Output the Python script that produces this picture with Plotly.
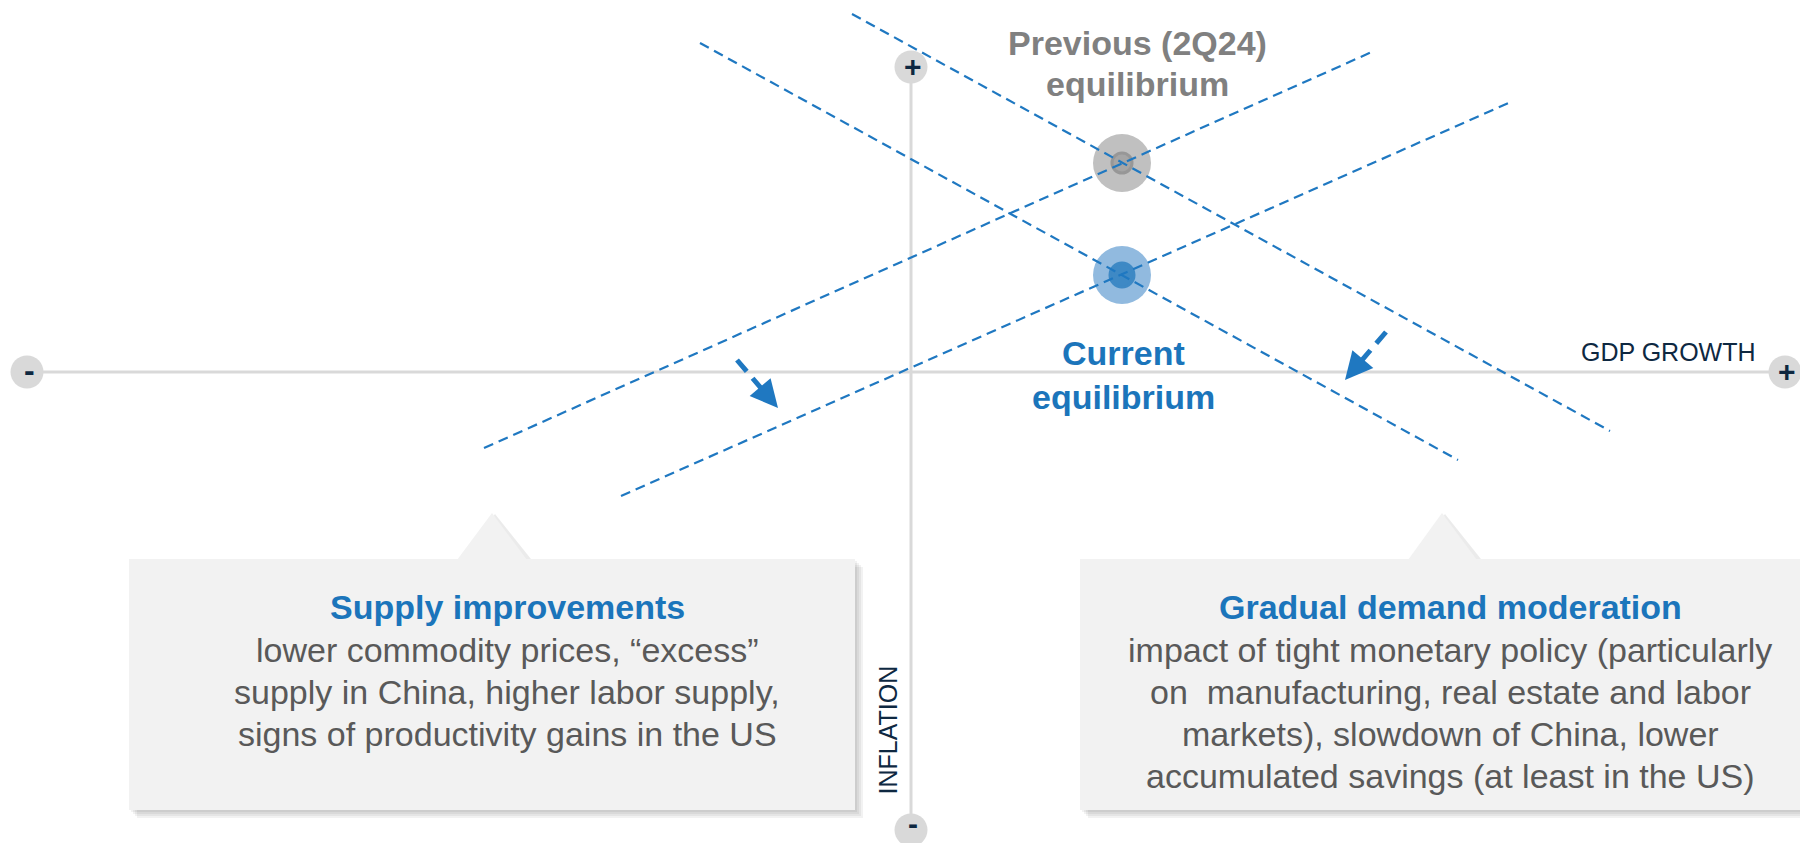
import plotly.graph_objects as go

# ---------------- DATA (conceptual diagram coordinates: x = GDP growth, y = inflation) ----------------
X_RANGE = [-9.11, 8.89]
Y_RANGE = [-4.71, 3.72]

gdp_axis_x = [-8.84, 8.74]
gdp_axis_y = [0.0, 0.0]
infl_axis_x = [0.0, 0.0]
infl_axis_y = [-4.58, 3.05]
axis_end_x = [-8.84, 8.74, 0.0, 0.0]
axis_end_y = [0.0, 0.0, 3.05, -4.58]
axis_end_text = ["-", "+", "+", "-"]

demand_prev_x = [-0.59, 6.99]
demand_prev_y = [3.58, -0.59]
demand_curr_x = [-2.11, 5.47]
demand_curr_y = [3.29, -0.88]
supply_prev_x = [-4.27, 4.63]
supply_prev_y = [-0.76, 3.21]
supply_curr_x = [-2.90, 6.02]
supply_curr_y = [-1.24, 2.71]

equilibrium_labels = ["Previous (2Q24)", "Current"]
equilibrium_x = [2.11, 2.11]
equilibrium_y = [2.09, 0.97]

supply_shift_x = [-1.74, -1.33]
supply_shift_y = [0.12, -0.36]
demand_shift_x = [4.75, 4.34]
demand_shift_y = [0.40, -0.08]

axis_titles = ["GDP GROWTH", "INFLATION"]

supply_title = "Supply improvements"
supply_lines = [
    "lower commodity prices, \u201cexcess\u201d",
    "supply in China, higher labor supply,",
    "signs of productivity gains in the US",
]
demand_title = "Gradual demand moderation"
demand_lines = [
    "impact of tight monetary policy (particularly",
    "on&nbsp; manufacturing, real estate and labor",
    "markets), slowdown of China, lower",
    "accumulated savings (at least in the US)",
]

# ---------------- STYLE ----------------
W, H = 1800, 843
FONT = "Liberation Sans, Arial, Helvetica, sans-serif"
BLUE = "#1B75BB"
LINE_BLUE = "#1F78C1"
GREY_TXT = "#595959"
NAVY = "#0E2841"
AXIS_GREY = "#D9D9D9"
BOX_FILL = "#F2F2F2"


def fx(px):
    return X_RANGE[0] + px / W * (X_RANGE[1] - X_RANGE[0])


def fy(py):
    return Y_RANGE[1] - py / H * (Y_RANGE[1] - Y_RANGE[0])


fig = go.Figure()

# axes
fig.add_trace(go.Scatter(x=gdp_axis_x, y=gdp_axis_y, mode="lines",
                         line=dict(color=AXIS_GREY, width=3), hoverinfo="skip"))
fig.add_trace(go.Scatter(x=infl_axis_x, y=infl_axis_y, mode="lines",
                         line=dict(color=AXIS_GREY, width=3), hoverinfo="skip"))
fig.add_trace(go.Scatter(x=axis_end_x, y=axis_end_y, mode="markers",
                         marker=dict(size=33, color=AXIS_GREY), hoverinfo="skip"))

# equilibrium halos
fig.add_trace(go.Scatter(x=equilibrium_x, y=equilibrium_y, mode="markers",
                         marker=dict(size=58, color=["#C0C0C0", "#91BADF"]), hoverinfo="skip"))
fig.add_trace(go.Scatter(x=equilibrium_x, y=equilibrium_y, mode="markers",
                         marker=dict(size=[20, 24], color=["#9A9A9A", BLUE],
                                     line=dict(color=["#878787", BLUE], width=3)),
                         hoverinfo="skip"))

# curves
for xs, ys in [(demand_prev_x, demand_prev_y), (demand_curr_x, demand_curr_y),
               (supply_prev_x, supply_prev_y), (supply_curr_x, supply_curr_y)]:
    fig.add_trace(go.Scatter(x=xs, y=ys, mode="lines",
                             line=dict(color=LINE_BLUE, width=2.2, dash="10px,6px"),
                             hoverinfo="skip"))

# shift arrows (dashed shaft + head)
for xs, ys in [(supply_shift_x, supply_shift_y), (demand_shift_x, demand_shift_y)]:
    fig.add_trace(go.Scatter(x=[xs[0], xs[0] + 0.8 * (xs[1] - xs[0])],
                             y=[ys[0], ys[0] + 0.8 * (ys[1] - ys[0])], mode="lines",
                             line=dict(color=LINE_BLUE, width=5, dash="15px,9px"),
                             hoverinfo="skip"))
    fig.add_annotation(x=xs[1], y=ys[1], ax=xs[0] + 0.55 * (xs[1] - xs[0]),
                       ay=ys[0] + 0.55 * (ys[1] - ys[0]), xref="x", yref="y",
                       axref="x", ayref="y", text="", showarrow=True,
                       arrowhead=2, arrowsize=1.1, arrowwidth=5, arrowcolor=LINE_BLUE)

# axis end symbols
for i, (x, y, t) in enumerate(zip(axis_end_x, axis_end_y, axis_end_text)):
    if i == 3:
        # bottom symbol: keep the glyph box inside the page
        fig.add_annotation(x=x, y=y, text="<b>%s</b>" % t, showarrow=False,
                           xshift=2, yanchor="bottom", yshift=-12,
                           font=dict(family=FONT, size=30, color=NAVY))
    else:
        fig.add_annotation(x=x, y=y, text="<b>%s</b>" % t, showarrow=False,
                           xshift=2, yshift=1 if t == "+" else 2,
                           font=dict(family=FONT, size=30 if t == "+" else 32, color=NAVY))

# axis titles
fig.add_annotation(x=gdp_axis_x[1], y=0, text=axis_titles[0], showarrow=False,
                   xanchor="right", yanchor="middle", xshift=-27, yshift=20,
                   font=dict(family=FONT, size=25, color=NAVY))
fig.add_annotation(x=0, y=infl_axis_y[0], text=axis_titles[1], showarrow=False,
                   textangle=-90, xanchor="center", yanchor="bottom", xshift=-24, yshift=33,
                   font=dict(family=FONT, size=25, color=NAVY))

# equilibrium labels
fig.add_annotation(x=equilibrium_x[0], y=equilibrium_y[0],
                   text="<b>%s</b>" % equilibrium_labels[0], showarrow=False,
                   xshift=15, yshift=120, font=dict(family=FONT, size=34, color="#808080"))
fig.add_annotation(x=equilibrium_x[0], y=equilibrium_y[0], text="<b>equilibrium</b>",
                   showarrow=False, xshift=15, yshift=79,
                   font=dict(family=FONT, size=34, color="#808080"))
fig.add_annotation(x=equilibrium_x[1], y=equilibrium_y[1],
                   text="<b>%s</b>" % equilibrium_labels[1], showarrow=False,
                   xshift=1, yshift=-78, font=dict(family=FONT, size=34, color=BLUE))
fig.add_annotation(x=equilibrium_x[1], y=equilibrium_y[1], text="<b>equilibrium</b>",
                   showarrow=False, xshift=1, yshift=-122,
                   font=dict(family=FONT, size=34, color=BLUE))

# callout boxes
shapes = []


def callout(x0, x1, y0, y1, tb0, tip_x, tb1, tip_y):
    for k in range(1, 5):
        off = 2 * k
        shapes.append(dict(type="rect", xref="x", yref="y", x0=fx(x0 + off), x1=fx(x1 + off),
                           y0=fy(y0 + off), y1=fy(y1 + off), line=dict(width=0),
                           fillcolor="rgba(0,0,0,0.05)", layer="below"))
    shapes.append(dict(type="path", xref="x", yref="y",
                       path="M %f,%f L %f,%f L %f,%f Z" % (fx(tb0 + 3), fy(y0), fx(tip_x + 3), fy(tip_y + 1),
                                                          fx(tb1 + 4), fy(y0)),
                       fillcolor="rgba(0,0,0,0.08)", line=dict(width=0), layer="below"))
    shapes.append(dict(type="rect", xref="x", yref="y", x0=fx(x0), x1=fx(x1), y0=fy(y0), y1=fy(y1),
                       line=dict(width=0), fillcolor=BOX_FILL, layer="below"))
    shapes.append(dict(type="path", xref="x", yref="y",
                       path="M %f,%f L %f,%f L %f,%f Z" % (fx(tb0), fy(y0 + 1), fx(tip_x), fy(tip_y),
                                                          fx(tb1), fy(y0 + 1)),
                       fillcolor=BOX_FILL, line=dict(width=0), layer="below"))


callout(129, 855, 559, 810, 457, 492, 527, 513)
callout(1080, 1830, 559, 810, 1408, 1442, 1477, 513)


def text_block(cx, title, lines, title_y, first_y, step):
    fig.add_annotation(x=fx(cx), y=fy(title_y), text="<b>%s</b>" % title, showarrow=False,
                       font=dict(family=FONT, size=34, color=BLUE))
    for i, ln in enumerate(lines):
        fig.add_annotation(x=fx(cx), y=fy(first_y + i * step), text=ln, showarrow=False,
                           font=dict(family=FONT, size=34, color=GREY_TXT))


text_block(507, supply_title, supply_lines, 607, 650, 42)
text_block(1450, demand_title, demand_lines, 607, 650, 42)

fig.update_layout(
    width=W, height=H, margin=dict(l=0, r=0, t=0, b=0),
    paper_bgcolor="white", plot_bgcolor="white", showlegend=False,
    xaxis=dict(range=X_RANGE, visible=False, fixedrange=True),
    yaxis=dict(range=Y_RANGE, visible=False, fixedrange=True),
    shapes=shapes,
)

fig.write_html("out.html", include_plotlyjs=True,
               config={"displayModeBar": False},
               post_script="document.body.style.margin='0';")
